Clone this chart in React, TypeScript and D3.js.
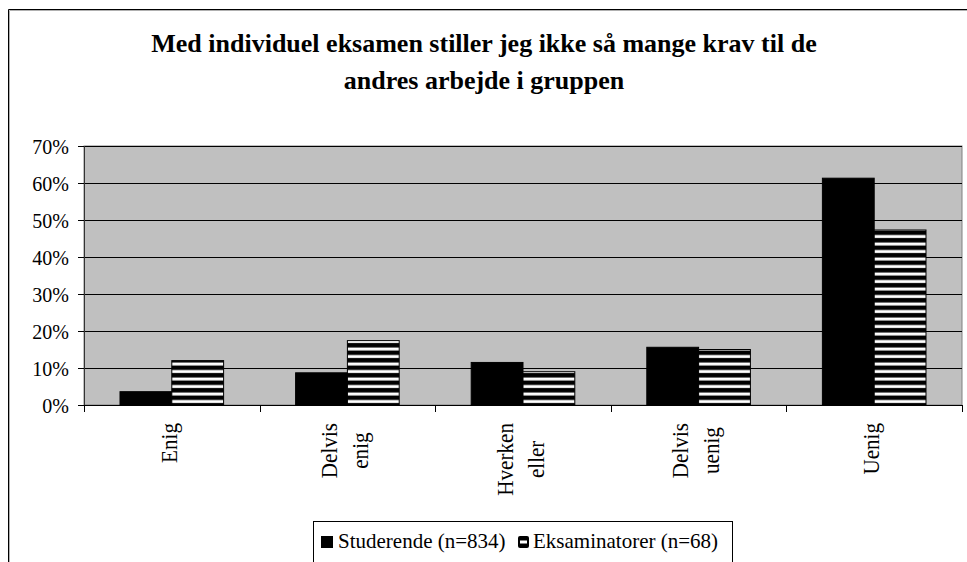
import React, { useEffect, useRef } from 'react';
import * as d3 from 'd3';

// categories (multi-line labels, one array per category)
const categories = ['Enig', 'Delvis enig', 'Hverken eller', 'Delvis uenig', 'Uenig'];
const categoryLines = [['Enig'], ['Delvis', 'enig'], ['Hverken', 'eller'], ['Delvis', 'uenig'], ['Uenig']];
const seriesNames = ['Studerende (n=834)', 'Eksaminatorer (n=68)'];
const studerende = [0.036, 0.087, 0.115, 0.156, 0.613];
const eksaminatorer = [0.12, 0.174, 0.09, 0.15, 0.473];
const yTicks = [0, 0.1, 0.2, 0.3, 0.4, 0.5, 0.6, 0.7];
const titleLines = ['Med individuel eksamen stiller jeg ikke så mange krav til de', 'andres arbejde i gruppen'];

const W = 967;
const H = 562;
const serif = '"Liberation Serif", "Times New Roman", serif';

export default function App() {
  const svgRef = useRef<SVGSVGElement>(null);

  useEffect(() => {
    if (!svgRef.current) return;
    const svg = d3.select(svgRef.current);
    svg.selectAll('*').remove();

    const plot = { left: 84, right: 962, top: 146, bottom: 405 };

    // stripe pattern
    const defs = svg.append('defs');
    const pat = defs.append('pattern')
      .attr('id', 'stripes')
      .attr('patternUnits', 'userSpaceOnUse')
      .attr('width', 10)
      .attr('height', 7.5)
      .attr('y', plot.bottom);
    pat.append('rect').attr('width', 10).attr('height', 7.5).attr('fill', '#000');
    pat.append('rect').attr('y', 2.5).attr('width', 10).attr('height', 3).attr('fill', '#fff');

    // outer frame
    svg.append('rect').attr('x', 0).attr('y', 0).attr('width', W).attr('height', H).attr('fill', '#fff');
    svg.append('path').attr('d', `M8.5,${H} V9.5 H${W}`).attr('fill', 'none').attr('stroke', '#000');
    svg.append('path').attr('d', `M9.5,${H} V10.5 H${W}`).attr('fill', 'none').attr('stroke', '#b0b0b0');

    // title
    svg.append('text')
      .attr('text-anchor', 'middle')
      .attr('font-family', serif)
      .attr('font-weight', 'bold')
      .attr('font-size', 26)
      .selectAll('tspan')
      .data(titleLines)
      .enter()
      .append('tspan')
      .attr('x', 484)
      .attr('y', (_, i) => 52 + i * 37)
      .text(d => d);

    const x0 = d3.scaleBand<string>()
      .domain(categories)
      .range([plot.left, plot.right])
      .paddingInner(0.41)
      .paddingOuter(0.205);
    const x1 = d3.scaleBand<string>()
      .domain(seriesNames)
      .range([0, x0.bandwidth()]);
    const y = d3.scaleLinear().domain([0, 0.7]).range([plot.bottom, plot.top]);

    // plot background
    svg.append('rect')
      .attr('x', plot.left)
      .attr('y', plot.top)
      .attr('width', plot.right - plot.left)
      .attr('height', plot.bottom - plot.top)
      .attr('fill', '#c0c0c0')
      .attr('stroke', '#808080');

    // gridlines
    svg.append('g')
      .selectAll('line')
      .data(yTicks.filter(t => t > 0))
      .enter()
      .append('line')
      .attr('x1', plot.left)
      .attr('x2', plot.right)
      .attr('y1', d => Math.round(y(d)) + 0.5)
      .attr('y2', d => Math.round(y(d)) + 0.5)
      .attr('stroke', '#000');

    // bars
    const values = [studerende, eksaminatorer];
    const fills = ['#000', 'url(#stripes)'];
    seriesNames.forEach((s, si) => {
      svg.append('g')
        .selectAll('rect')
        .data(values[si])
        .enter()
        .append('rect')
        .attr('x', (_, i) => (x0(categories[i]) as number) + (x1(s) as number))
        .attr('y', d => y(d))
        .attr('width', x1.bandwidth())
        .attr('height', d => plot.bottom - y(d))
        .attr('fill', fills[si])
        .attr('stroke', '#000')
        .attr('stroke-width', 1);
    });

    // axes lines
    svg.append('line')
      .attr('x1', plot.left + 0.5).attr('x2', plot.left + 0.5)
      .attr('y1', plot.top).attr('y2', plot.bottom)
      .attr('stroke', '#333');
    svg.append('line')
      .attr('x1', plot.left).attr('x2', plot.right + 1)
      .attr('y1', plot.bottom + 0.5).attr('y2', plot.bottom + 0.5)
      .attr('stroke', '#000');

    // y ticks
    const yAxis = svg.append('g');
    yTicks.forEach(t => {
      const yy = Math.round(y(t)) + 0.5;
      yAxis.append('line')
        .attr('x1', plot.left - 6).attr('x2', plot.left)
        .attr('y1', yy).attr('y2', yy)
        .attr('stroke', '#000');
      yAxis.append('text')
        .attr('x', 69)
        .attr('y', yy)
        .attr('dy', '0.35em')
        .attr('text-anchor', 'end')
        .attr('font-family', serif)
        .attr('font-size', 20)
        .text(d3.format('.0%')(t));
    });

    // x ticks at category boundaries
    const step = x0.step();
    d3.range(categories.length + 1).forEach(i => {
      const xx = Math.round(plot.left + i * step) + 0.5;
      svg.append('line')
        .attr('x1', xx).attr('x2', xx)
        .attr('y1', plot.bottom).attr('y2', plot.bottom + 7)
        .attr('stroke', '#000');
    });

    // x labels, rotated, lines centered on each other, block ends at top
    const fs = 24;
    const lh = 31;
    const sx = 0.88;
    categories.forEach((c, ci) => {
      const lines = categoryLines[ci];
      const cx = (x0(c) as number) + x0.bandwidth() / 2;
      const g = svg.append('g');
      const t = g.append('text')
        .attr('font-family', serif)
        .attr('font-size', fs)
        .attr('text-anchor', 'middle');
      const spans = t.selectAll('tspan')
        .data(lines)
        .enter()
        .append('tspan')
        .attr('x', 0)
        .attr('y', (_, i) => (i - (lines.length - 1) / 2) * lh + 0.22 * fs)
        .text(d => d);
      let maxW = 0;
      spans.each(function () {
        maxW = Math.max(maxW, (this as SVGTSpanElement).getComputedTextLength());
      });
      g.attr('transform', `translate(${cx},${423 + (maxW * sx) / 2}) rotate(-90) scale(${sx},1)`);
    });

    // legend
    const lg = svg.append('g');
    lg.append('rect')
      .attr('x', 313.5).attr('y', 521.5)
      .attr('width', 419).attr('height', 60)
      .attr('fill', '#fff').attr('stroke', '#000');
    lg.append('rect').attr('x', 321).attr('y', 536).attr('width', 12).attr('height', 12).attr('fill', '#000');
    lg.append('rect').attr('x', 518).attr('y', 536).attr('width', 11).attr('height', 12).attr('rx', 2).attr('fill', '#000');
    lg.append('rect').attr('x', 520).attr('y', 540.5).attr('width', 7).attr('height', 3).attr('fill', '#fff');
    lg.append('text')
      .attr('x', 338).attr('y', 548)
      .attr('font-family', serif).attr('font-size', 21)
      .text(seriesNames[0]);
    lg.append('text')
      .attr('x', 533).attr('y', 548)
      .attr('font-family', serif).attr('font-size', 21)
      .text(seriesNames[1]);
  }, []);

  return (
    <div style={{ position: 'absolute', left: 0, top: 0 }}>
      <svg ref={svgRef} width={W} height={H} style={{ display: 'block' }} />
    </div>
  );
}
